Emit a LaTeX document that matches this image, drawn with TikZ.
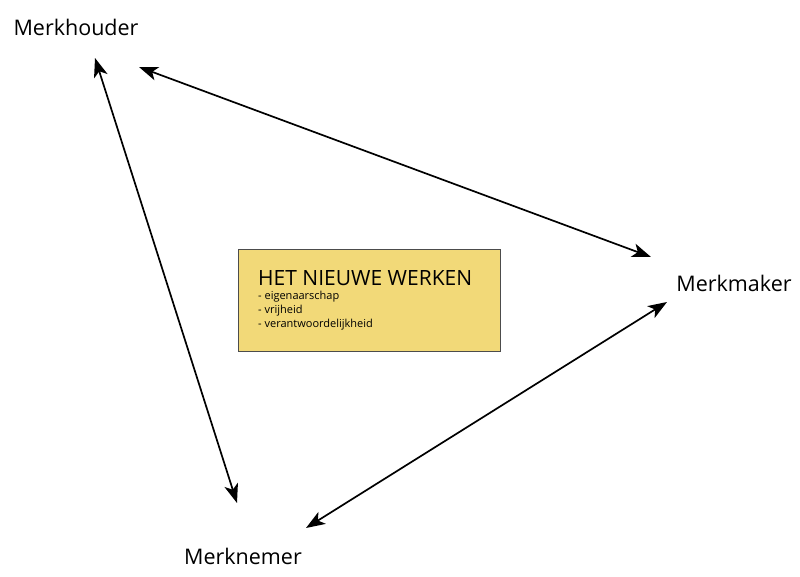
\documentclass[tikz,border=0pt]{standalone}
\usepackage{fontspec}
\setmainfont{Open Sans}
\usetikzlibrary{arrows.meta}
\definecolor{boxyellow}{HTML}{F2D978}
\begin{document}
\begin{tikzpicture}[
    x=1pt, y=-1pt,
    role_format/.style={font=\fontsize{21.5}{24}\selectfont, inner sep=0pt},
    link/.style={line width=1.7pt, {Stealth[length=19pt,width=14pt,inset=5pt]}-{Stealth[length=19pt,width=14pt,inset=5pt]}},
    ]
    \useasboundingbox (0,0) rectangle (800,577);

    % --- Roles ---
    \node[role_format] (houder) at (76,27) {Merkhouder};
    \node[role_format] (maker) at (734,283) {Merkmaker};
    \node[role_format] (nemer) at (243,556) {Merknemer};

    % --- Central box ---
    \node[draw=black!70, line width=1pt, fill=boxyellow, anchor=north west,
          minimum width=262pt, minimum height=102pt] (box) at (238,249) {};
    \node[anchor=west, inner sep=0pt, font=\fontsize{21}{24}\selectfont] (title)
      at (258,278) {HET NIEUWE WERKEN};
    \node[anchor=north west, inner sep=0pt, align=left,
          font=\fontsize{11}{14}\selectfont] (list) at (258,291) {
      - eigenaarschap \\
      - vrijheid \\
      - verantwoordelijkheid
    };

    % --- Arrow ends ---
    \coordinate (houder-a) at (95,58);
    \coordinate (nemer-a) at (237,503);
    \coordinate (houder-b) at (139,67);
    \coordinate (maker-b) at (651,257);
    \coordinate (maker-c) at (667,302);
    \coordinate (nemer-c) at (306,528);

    % --- Connectors ---
    \draw[link] (houder-a) -- (nemer-a);
    \draw[link] (houder-b) -- (maker-b);
    \draw[link] (maker-c) -- (nemer-c);

\end{tikzpicture}
\end{document}
